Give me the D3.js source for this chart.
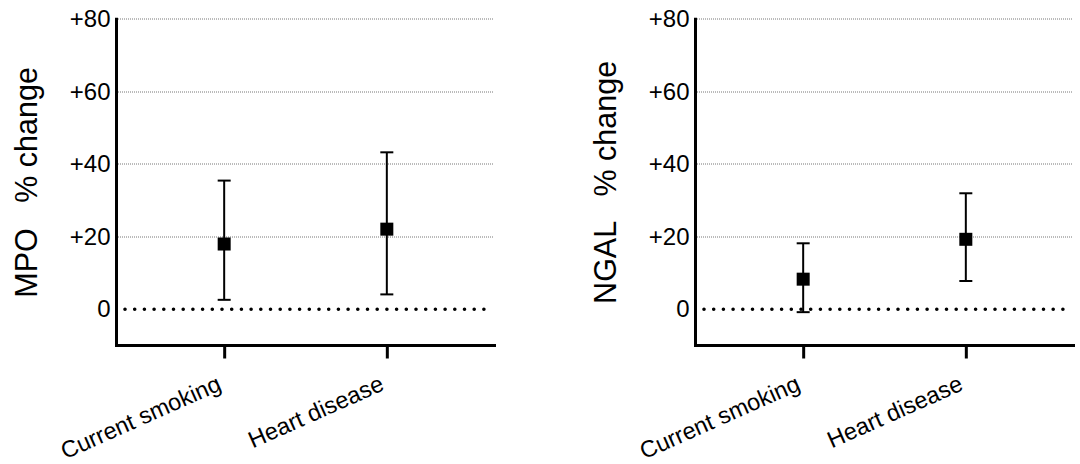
<!DOCTYPE html>
<html>
<head>
<meta charset="utf-8">
<script src="https://cdn.jsdelivr.net/npm/d3@7/dist/d3.min.js"></script>
<style>
  html, body { margin: 0; padding: 0; background: #fff; }
  svg { display: block; font-family: "Liberation Sans", Arial, Helvetica, sans-serif; }
</style>
</head>
<body>
<svg id="chart" width="1080" height="464"></svg>
<script>
// ---- data ----
const categories = ["Current smoking", "Heart disease"];
const mpoMean = [18.0, 22.1];
const mpoLow  = [2.6, 4.1];
const mpoHigh = [35.5, 43.3];
const ngalMean = [8.3, 19.3];
const ngalLow  = [-0.8, 7.8];
const ngalHigh = [18.2, 32.0];
const yTicks = [0, 20, 40, 60, 80];
const yTickLabels = ["0", "+20", "+40", "+60", "+80"];
const yDomain = [-10, 80];
const panelTitles = ["MPO   % change", "NGAL   % change"];

// ---- layout ----
const svg = d3.select("#chart");
const plotTop = 19.3, plotBottom = 345.5, plotW = 378;
const panels = [
  { x0: 116.5, title: panelTitles[0], mean: mpoMean, low: mpoLow, high: mpoHigh },
  { x0: 695.5, title: panelTitles[1], mean: ngalMean, low: ngalLow, high: ngalHigh }
];

const y = d3.scaleLinear().domain(yDomain).range([plotBottom, plotTop]);
const crisp = v => Math.round(v) + 0.5;

panels.forEach(p => {
  const g = svg.append("g").attr("transform", `translate(${p.x0},0)`);
  const x = d3.scalePoint().domain(categories).range([0, plotW]).padding(0.662);

  // gridlines
  g.append("g").selectAll("line")
    .data(yTicks.filter(t => t !== 0))
    .join("line")
    .attr("x1", 1.5).attr("x2", plotW - 1)
    .attr("y1", d => crisp(y(d)) - 0.5).attr("y2", d => crisp(y(d)) - 0.5)
    .attr("stroke", "#777").attr("stroke-width", 1)
    .attr("stroke-dasharray", "1,1");

  // zero dotted line
  g.append("line")
    .attr("x1", 8.5).attr("x2", plotW - 6)
    .attr("y1", y(0)).attr("y2", y(0))
    .attr("stroke", "#000").attr("stroke-width", 3.6)
    .attr("stroke-linecap", "round")
    .attr("stroke-dasharray", "0,9.7");

  // y axis
  const yAxis = d3.axisLeft(y).tickValues(yTicks)
    .tickFormat((d, i) => yTickLabels[i]).tickSize(0).tickPadding(6);
  const ya = g.append("g").call(yAxis);
  ya.select(".domain").remove();
  ya.selectAll("text").attr("font-size", 24).attr("fill", "#000")
    .attr("font-family", "Liberation Sans, Arial, sans-serif");

  // x axis
  const xAxis = d3.axisBottom(x).tickSize(13).tickSizeOuter(0);
  const xa = g.append("g").attr("transform", `translate(0,${plotBottom})`).call(xAxis);
  xa.select(".domain").remove();
  xa.selectAll(".tick line").attr("stroke", "#000").attr("stroke-width", 3);
  xa.selectAll("text")
    .attr("font-size", 23.5).attr("fill", "#000")
    .attr("font-family", "Liberation Sans, Arial, sans-serif")
    .attr("text-anchor", "end")
    .attr("x", 0).attr("y", 0).attr("dy", 0)
    .attr("transform", "translate(-2,44) rotate(-24)");

  // axis lines
  g.append("path")
    .attr("d", d3.line()([[0, y(yDomain[1])], [0, plotBottom], [plotW, plotBottom]]))
    .attr("fill", "none").attr("stroke", "#000").attr("stroke-width", 3)
    .attr("stroke-linecap", "square").attr("stroke-linejoin", "miter");

  // y title
  g.append("text")
    .attr("transform", `translate(-80,${(plotTop + plotBottom) / 2}) rotate(-90)`)
    .attr("text-anchor", "middle")
    .attr("font-size", 30.5)
    .style("white-space", "pre")
    .attr("xml:space", "preserve")
    .text(p.title);

  // error bars
  const cap = 13;
  const bars = g.append("g").selectAll("g").data(categories).join("g");
  bars.append("line")
    .attr("x1", d => x(d)).attr("x2", d => x(d))
    .attr("y1", (d, i) => y(p.low[i])).attr("y2", (d, i) => y(p.high[i]))
    .attr("stroke", "#000").attr("stroke-width", 2);
  bars.append("line")
    .attr("x1", d => x(d) - cap / 2).attr("x2", d => x(d) + cap / 2)
    .attr("y1", (d, i) => y(p.low[i])).attr("y2", (d, i) => y(p.low[i]))
    .attr("stroke", "#000").attr("stroke-width", 2);
  bars.append("line")
    .attr("x1", d => x(d) - cap / 2).attr("x2", d => x(d) + cap / 2)
    .attr("y1", (d, i) => y(p.high[i])).attr("y2", (d, i) => y(p.high[i]))
    .attr("stroke", "#000").attr("stroke-width", 2);
  const m = 13;
  bars.append("rect")
    .attr("x", d => x(d) - m / 2).attr("y", (d, i) => y(p.mean[i]) - m / 2)
    .attr("width", m).attr("height", m)
    .attr("fill", "#000");
});
</script>
</body>
</html>
